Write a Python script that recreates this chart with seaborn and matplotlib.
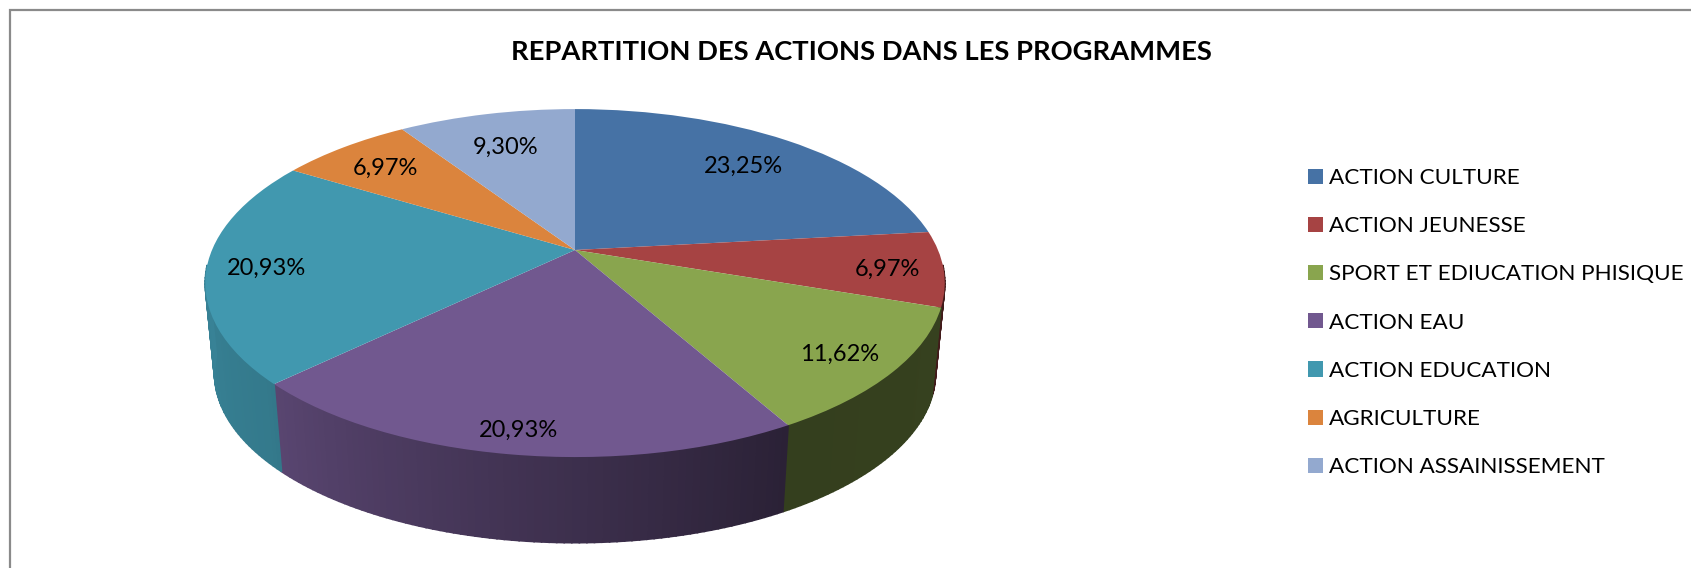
import numpy as np
import matplotlib
matplotlib.use('Agg')
import matplotlib.pyplot as plt
import matplotlib.transforms as mtransforms
import seaborn as sns

# Values
categories = ['ACTION CULTURE', 'ACTION JEUNESSE', 'SPORT ET EDIUCATION PHISIQUE', 'ACTION EAU',
              'ACTION EDUCATION', 'AGRICULTURE', 'ACTION ASSAINISSEMENT']
shares = [23.25, 6.97, 11.62, 20.93, 20.93, 6.97, 9.30]
colors = ['#4672A5', '#A64343', '#89A54E', '#71588F', '#4198AF', '#DB843D', '#93A9CF']
label_dist = [0.77, 0.85, 0.85, 0.89, 0.84, 0.80, 0.75]

# Perspective of the disc, in pixels of the picture
CX, APEX_Y, ELLIPSE_Y = 575, 250, 283
A, B, P = 363, 167.7, 0.19
DEPTH, SHRINK = 90, 0.975


class DiscTilt(mtransforms.Transform):
    input_dims = 2
    output_dims = 2

    def transform_non_affine(self, values):
        xy = np.asarray(values, dtype=float)
        w = 1 + P * xy[:, 1]
        return np.column_stack([CX + A * xy[:, 0] / w, APEX_Y - B * xy[:, 1] / w])


sns.set_theme(style='white')
plt.rcParams['font.family'] = ['Lato', 'DejaVu Sans']
palette = sns.color_palette(colors)

fig = plt.figure(figsize=(16.91, 5.68), dpi=100)
ax = fig.add_axes([0, 0, 1, 1])

wedges, _ = ax.pie(shares, colors=palette, startangle=90, counterclock=False,
                   wedgeprops={'linewidth': 0})
ax.set_aspect('auto')
ax.set_xlim(0, 1691)
ax.set_ylim(568, 0)
ax.axis('off')

tilt = DiscTilt()
for w in wedges:
    w.set_transform(tilt + ax.transData)
    w.set_zorder(3)

# Side wall, cut in thin strips for the shading
edges = np.concatenate([[0], np.cumsum(shares)]) / np.sum(shares) * 360


def rim(theta):
    rad = np.radians(theta)
    return tilt.transform(np.column_stack([np.sin(rad), np.cos(rad)]))


for i, c in enumerate(palette):
    lo, hi = max(edges[i], 95), min(edges[i + 1], 265)
    if lo >= hi:
        continue
    steps = np.linspace(lo, hi, int(hi - lo) + 2)
    top = rim(steps)
    bottom = np.column_stack([CX + SHRINK * (top[:, 0] - CX),
                              ELLIPSE_Y + DEPTH + SHRINK * (top[:, 1] - ELLIPSE_Y)])
    for j in range(len(steps) - 1):
        shade = np.interp(steps[j], [95, 151, 228, 265], [0.40, 0.38, 0.80, 0.86])
        poly = np.vstack([top[j:j + 2], bottom[j:j + 2][::-1]])
        ax.fill(poly[:, 0], poly[:, 1], color=np.array(c) * shade, lw=1.2, zorder=2)

# Percent labels
for i, share in enumerate(shares):
    mid = np.radians((edges[i] + edges[i + 1]) / 2)
    pos = tilt.transform(np.array([[label_dist[i] * np.sin(mid), label_dist[i] * np.cos(mid)]]))[0]
    ax.text(pos[0], pos[1] + 3, f'{share:.2f}'.replace('.', ',') + '%', ha='center', va='center',
            fontsize=17, color='black', zorder=4)

ax.text(861, 52, 'REPARTITION DES ACTIONS DANS LES PROGRAMMES', ha='center', va='center',
        fontsize=19.75, fontweight='bold', color='black')

ax.legend(wedges, categories, loc='upper left', bbox_to_anchor=(1308 / 1691, 1 - 168 / 568),
          frameon=False, fontsize=16.2, handlelength=0.66, handleheight=0.66, handletextpad=0.27,
          labelspacing=1.255, borderpad=0, borderaxespad=0, labelcolor='black')

# Chart border, only left and top are in the crop
ax.plot([10, 10, 1691], [568, 10, 10], color='#8a8a8a', lw=1.6, solid_joinstyle='miter')

fig.savefig('out.png', dpi=100)
